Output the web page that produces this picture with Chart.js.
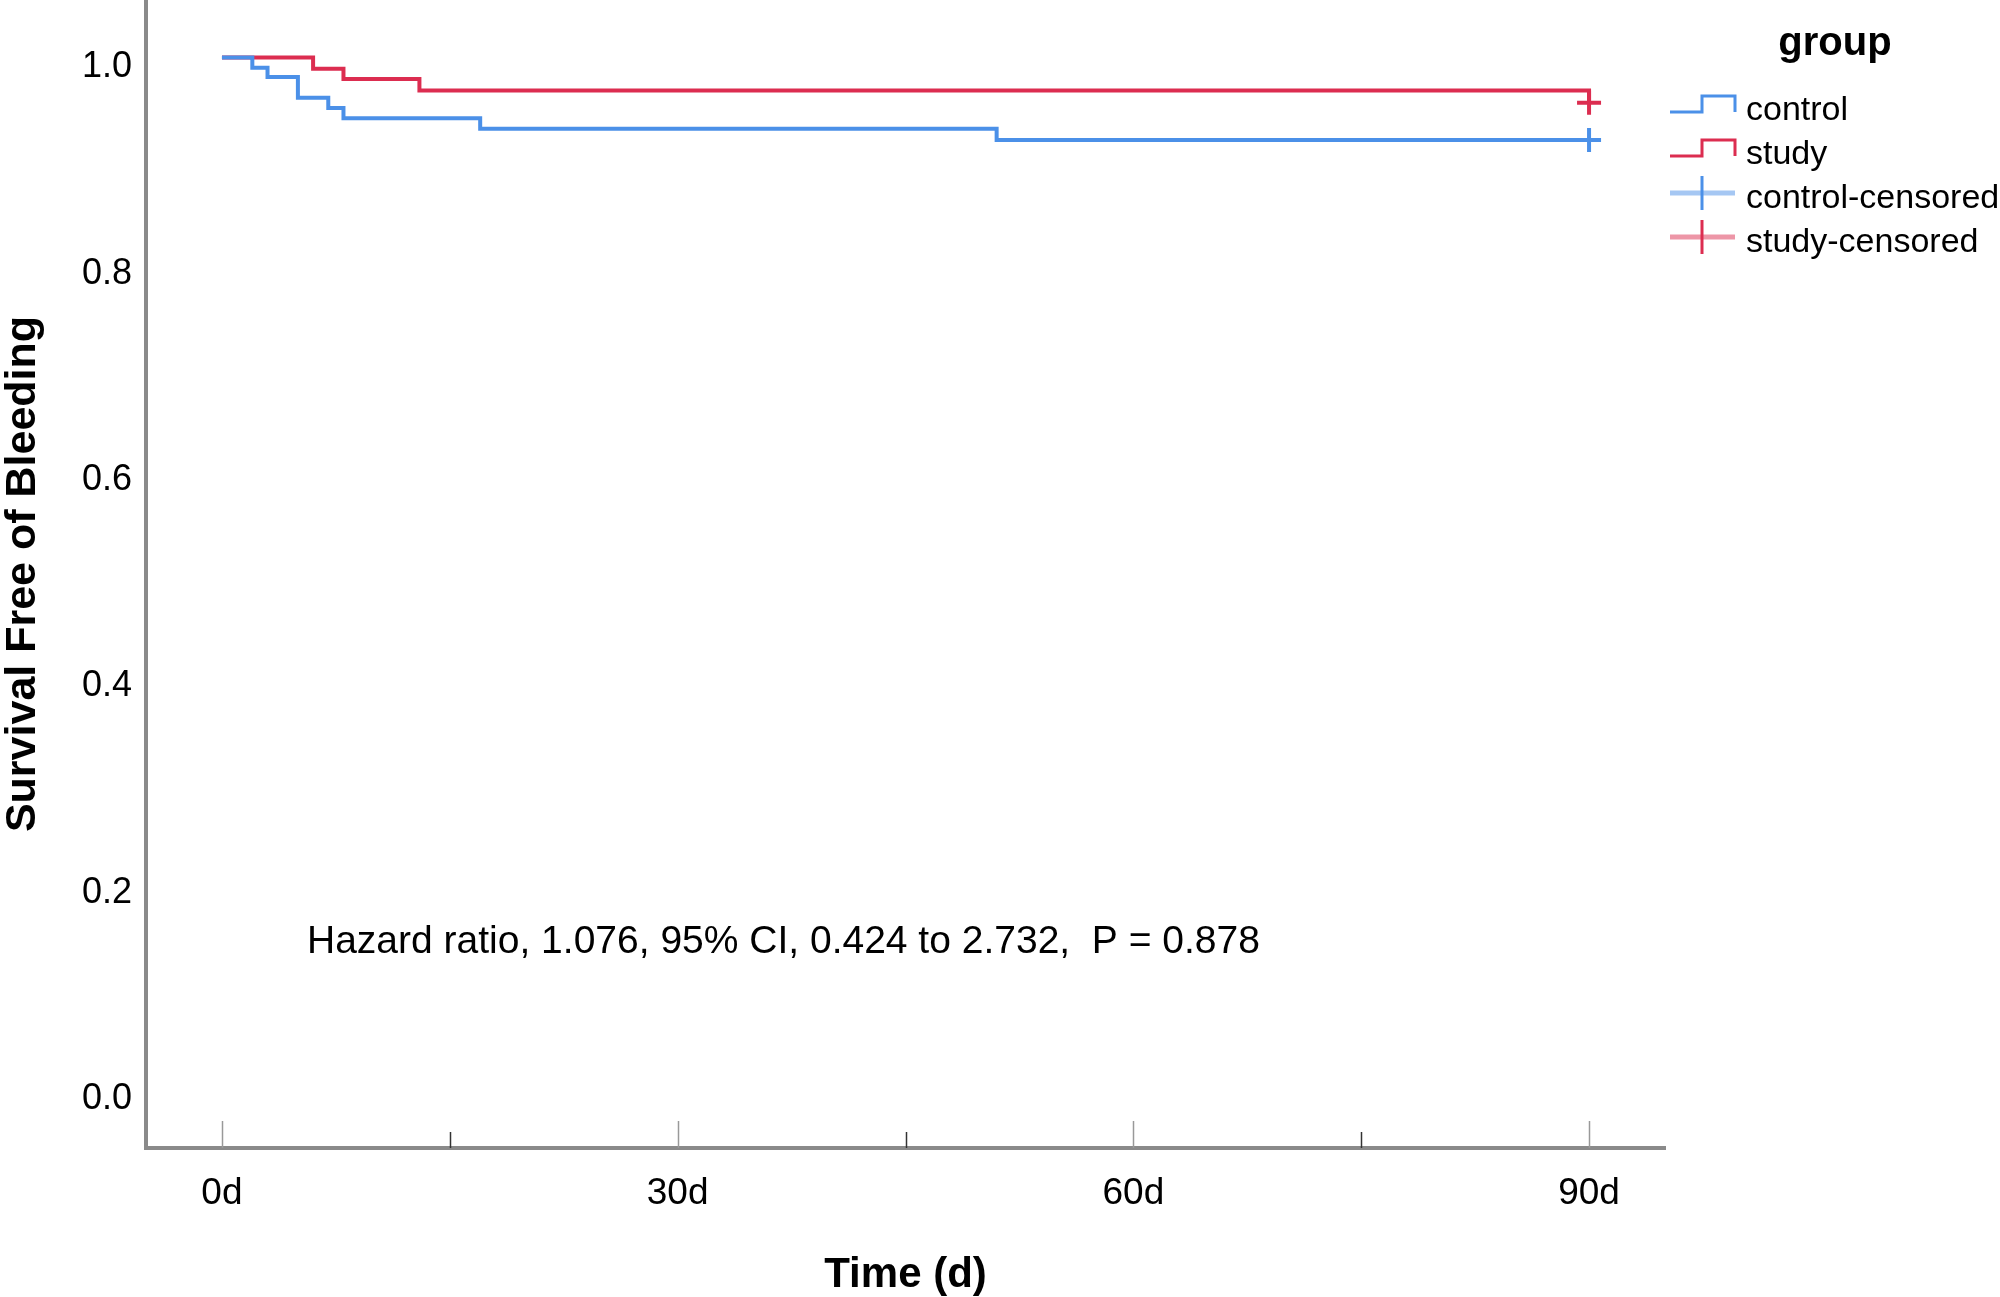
<!DOCTYPE html>
<html>
<head>
<meta charset="utf-8">
<script src="https://cdn.jsdelivr.net/npm/chart.js@4.4.0/dist/chart.umd.min.js"></script>
<style>
  html, body { margin: 0; padding: 0; background: #fff; }
  #wrap { width: 2000px; height: 1297px; }
</style>
</head>
<body>
<div id="wrap"><canvas id="kmChart"></canvas></div>
<script>
// Kaplan-Meier steps (day of event, survival after it)
const controlDays = [0, 2, 3, 5, 7, 8, 17, 51, 90];
const controlSurv = [1.0, 0.990, 0.981, 0.961, 0.951, 0.941, 0.931, 0.920, 0.920];
const studyDays = [0, 6, 8, 13, 90];
const studySurv = [1.0, 0.989, 0.979, 0.968, 0.956];

// censored observations
const controlCensDays = [90];
const controlCensSurv = [0.920];
const studyCensDays = [90];
const studyCensSurv = [0.956];

const xTicks = [0, 30, 60, 90];
const xMinorTicks = [15, 45, 75];
const yTicks = [0, 0.2, 0.4, 0.6, 0.8, 1.0];

const annotationText = 'Hazard ratio, 1.076, 95% CI, 0.424 to 2.732,  P = 0.878';
const annotationAt = { x: 5.6, y: 0.132 };

const FONT = '"Liberation Sans", Arial, sans-serif';
const BLUE = '#4b90e8';
const RED = '#dc2d50';
const AXIS_GREY = '#8a8a8a';

function toPoints(xs, ys) {
    return xs.map((x, i) => ({ x: x, y: ys[i] }));
}

// tick marks point up into the plot, like the SPSS output
const innerTicks = {
    id: 'innerTicks',
    afterDraw(chart) {
        const ctx = chart.ctx;
        const xs = chart.scales.x;
        const base = chart.chartArea.bottom;
        ctx.save();
        ctx.lineWidth = 1.5;
        ctx.strokeStyle = '#999';
        xTicks.forEach(v => {
            const px = Math.round(xs.getPixelForValue(v)) + 0.5;
            ctx.beginPath();
            ctx.moveTo(px, base);
            ctx.lineTo(px, base - 27);
            ctx.stroke();
        });
        ctx.strokeStyle = '#333';
        xMinorTicks.forEach(v => {
            const px = Math.round(xs.getPixelForValue(v)) + 0.5;
            ctx.beginPath();
            ctx.moveTo(px, base);
            ctx.lineTo(px, base - 16);
            ctx.stroke();
        });
        ctx.restore();
    }
};

const hrNote = {
    id: 'hrNote',
    afterDatasetsDraw(chart) {
        const ctx = chart.ctx;
        ctx.save();
        ctx.font = '39px ' + FONT;
        ctx.fillStyle = '#000';
        ctx.textBaseline = 'alphabetic';
        ctx.fillText(annotationText,
            chart.scales.x.getPixelForValue(annotationAt.x),
            chart.scales.y.getPixelForValue(annotationAt.y));
        ctx.restore();
    }
};

// legend drawn by hand: step glyph for curves, cross glyph for censored
const groupLegend = {
    id: 'groupLegend',
    afterDraw(chart) {
        const ctx = chart.ctx;
        const x0 = 1670, xm = 1702, x1 = 1735;
        ctx.save();
        ctx.fillStyle = '#000';
        ctx.font = 'bold 40px ' + FONT;
        ctx.textAlign = 'center';
        ctx.textBaseline = 'alphabetic';
        ctx.fillText('group', 1835, 55);

        ctx.font = '34px ' + FONT;
        ctx.textAlign = 'left';
        chart.data.datasets.forEach((ds, i) => {
            const base = 120 + i * 44;
            ctx.lineCap = 'butt';
            if (ds.showLine === false) {
                ctx.globalAlpha = 0.5;
                ctx.strokeStyle = ds.borderColor;
                ctx.lineWidth = 5;
                ctx.beginPath();
                ctx.moveTo(x0, base - 15);
                ctx.lineTo(x1, base - 15);
                ctx.stroke();
                ctx.globalAlpha = 1;
                ctx.lineWidth = 3;
                ctx.beginPath();
                ctx.moveTo(xm, base - 32);
                ctx.lineTo(xm, base + 2);
                ctx.stroke();
            } else {
                ctx.strokeStyle = ds.borderColor;
                ctx.lineWidth = 3;
                ctx.beginPath();
                ctx.moveTo(x0, base - 8);
                ctx.lineTo(xm, base - 8);
                ctx.lineTo(xm, base - 24);
                ctx.lineTo(x1, base - 24);
                ctx.lineTo(x1, base - 8);
                ctx.stroke();
            }
            ctx.fillStyle = '#000';
            ctx.fillText(ds.label, 1746, base);
        });
        ctx.restore();
    }
};

function initKmChart() {
    const ctx = document.getElementById('kmChart').getContext('2d');
    new Chart(ctx, {
        type: 'line',
        data: {
            datasets: [
                {
                    label: 'control',
                    data: toPoints(controlDays, controlSurv),
                    borderColor: BLUE,
                    borderWidth: 4,
                    stepped: 'before',
                    pointRadius: 0
                },
                {
                    label: 'study',
                    data: toPoints(studyDays, studySurv),
                    borderColor: RED,
                    borderWidth: 4,
                    stepped: 'before',
                    pointRadius: 0
                },
                {
                    label: 'control-censored',
                    data: toPoints(controlCensDays, controlCensSurv),
                    borderColor: BLUE,
                    showLine: false,
                    pointStyle: 'cross',
                    pointRadius: 12,
                    pointBorderWidth: 4
                },
                {
                    label: 'study-censored',
                    data: toPoints(studyCensDays, studyCensSurv),
                    borderColor: RED,
                    showLine: false,
                    pointStyle: 'cross',
                    pointRadius: 12,
                    pointBorderWidth: 4
                }
            ]
        },
        options: {
            responsive: true,
            maintainAspectRatio: false,
            animation: false,
            layout: {
                autoPadding: false,
                padding: { left: 0, right: 335, top: 0, bottom: 0 }
            },
            plugins: {
                legend: { display: false },
                tooltip: { enabled: false }
            },
            scales: {
                x: {
                    type: 'linear',
                    min: -5,
                    max: 95,
                    grid: { display: false, drawTicks: false },
                    border: { display: true, color: AXIS_GREY, width: 4 },
                    afterBuildTicks: scale => {
                        scale.ticks = xTicks.map(v => ({ value: v }));
                    },
                    afterFit: scale => {
                        scale.height = 149;
                        scale.paddingLeft = 0;
                        scale.paddingRight = 0;
                    },
                    ticks: {
                        color: '#000',
                        padding: 24,
                        maxRotation: 0,
                        font: { family: FONT, size: 37 },
                        callback: v => v + 'd'
                    },
                    title: {
                        display: true,
                        text: 'Time (d)',
                        color: '#000',
                        padding: { top: 0, bottom: -4 },
                        font: { family: FONT, size: 42, weight: 'bold' }
                    }
                },
                y: {
                    type: 'linear',
                    min: -0.0572,
                    max: 1.0557,
                    grid: { display: false, drawTicks: false },
                    border: { display: true, color: AXIS_GREY, width: 4 },
                    afterBuildTicks: scale => {
                        scale.ticks = yTicks.map(v => ({ value: v }));
                    },
                    afterFit: scale => {
                        scale.width = 146;
                        scale.paddingTop = 0;
                        scale.paddingBottom = 0;
                    },
                    ticks: {
                        color: '#000',
                        padding: 14,
                        labelOffset: 10,
                        font: { family: FONT, size: 36 },
                        callback: v => Number(v).toFixed(1)
                    },
                    title: {
                        display: true,
                        text: 'Survival Free of Bleeding',
                        color: '#000',
                        padding: { top: -3, bottom: 0 },
                        font: { family: FONT, size: 43, weight: 'bold' }
                    }
                }
            }
        },
        plugins: [innerTicks, hrNote, groupLegend]
    });
}

document.addEventListener('DOMContentLoaded', () => {
    initKmChart();
});
</script>
</body>
</html>
